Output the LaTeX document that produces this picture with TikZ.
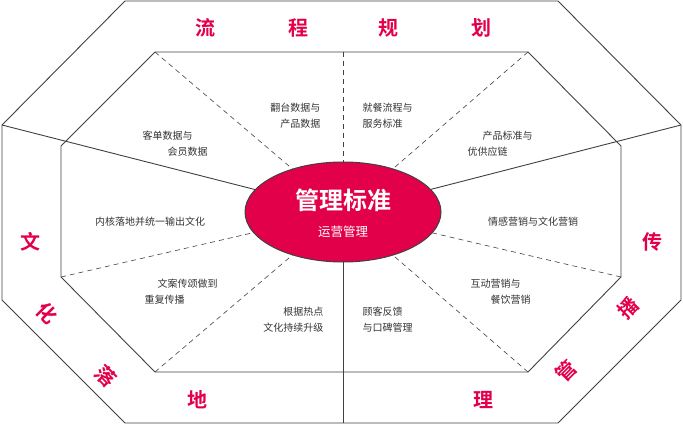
\documentclass[tikz,border=0pt]{standalone}
\usepackage{fontspec}
\usetikzlibrary{shapes.geometric}
\newfontfamily\cjk{Noto Sans CJK SC}
\newfontfamily\cjkb{Noto Sans CJK SC Bold}
\begin{document}
\begin{tikzpicture}[x=1pt,y=-1pt,
    edge/.style={draw=black!75, line width=0.9pt},
    spoke/.style={draw=black!75, line width=0.6pt, dash pattern=on 5pt off 4pt},
    big/.style={text=crim, font=\cjkb\fontsize{20}{22}\selectfont},
    small/.style={text=black!80, font=\cjk\fontsize{10}{16}\selectfont, align=left}]
            \definecolor{crim}{HTML}{E2004A}
            \useasboundingbox (0,0) rectangle (683,425);
            % outer and inner octagons
            \draw[edge] (125,1) -- (558,1) -- (681,125) -- (681,300) -- (558,423) -- (125,423) -- (2,300) -- (2,125) -- cycle;
            \draw[edge] (155,52) -- (528,52) -- (621,146) -- (621,277) -- (528,372) -- (155,372) -- (61,277) -- (61,146) -- cycle;
            \coordinate (c) at (343,212);
            % spokes
            \foreach \p in {(155,52),(528,52),(61,277),(621,277),(155,372),(528,372),(343,52)}
                \draw[spoke] \p -- (c);
            \draw[edge] (2,125) -- (c) -- (681,125);
            \draw[edge] (c) -- (343,423);
            \node[ellipse, draw=black!75, line width=1pt, fill=crim, minimum width=196pt, minimum height=100pt, inner sep=0pt] (core) at (c) {};
            \node[text=white, font=\cjkb\fontsize{24}{26}\selectfont] (title) at (343,200) {管理标准};
            \node[text=white, font=\cjk\fontsize{12.5}{14}\selectfont] (sub) at (343,232) {运营管理};
            % ring labels
            \node[big] (t1) at (205,28) {流};
            \node[big] (t2) at (298,28) {程};
            \node[big] (t3) at (388,28) {规};
            \node[big] (t4) at (481,28) {划};
            \node[big] (l1) at (30,242) {文};
            \node[big, rotate=-45] (l2) at (47,313) {化};
            \node[big, rotate=-45] (l3) at (106,376) {落};
            \node[big] (l4) at (197,400) {地};
            \node[big] (r1) at (652,242) {传};
            \node[big, rotate=45] (r2) at (628,308) {播};
            \node[big, rotate=45] (r3) at (566,371) {管};
            \node[big] (r4) at (483,400) {理};
            % sector labels
            \node[small, align=right, anchor=east] (s1) at (324,116) {翻台数据与\\产品数据};
            \node[small, anchor=west] (s2) at (359,116) {就餐流程与\\服务标准};
            \node[small, anchor=west] (s3) at (139,144) {客单数据与\\\hspace{25pt}会员数据};
            \node[small, anchor=west] (s4) at (464,144) {\hspace{15pt}产品标准与\\优供应链};
            \node[small] (s5) at (150,222) {内核落地并统一输出文化};
            \node[small] (s6) at (533,222) {情感营销与文化营销};
            \node[small, anchor=west] (s7) at (141,292) {\hspace{13pt}文案传颂做到\\重复传播};
            \node[small, anchor=west] (s8) at (467,292) {互动营销与\\\hspace{20pt}餐饮营销};
            \node[small, align=right, anchor=east] (s9) at (327,320) {根据热点\\文化持续升级};
            \node[small, anchor=west] (s10) at (359,320) {顾客反馈\\与口碑管理};
        \end{tikzpicture}
\end{document}
